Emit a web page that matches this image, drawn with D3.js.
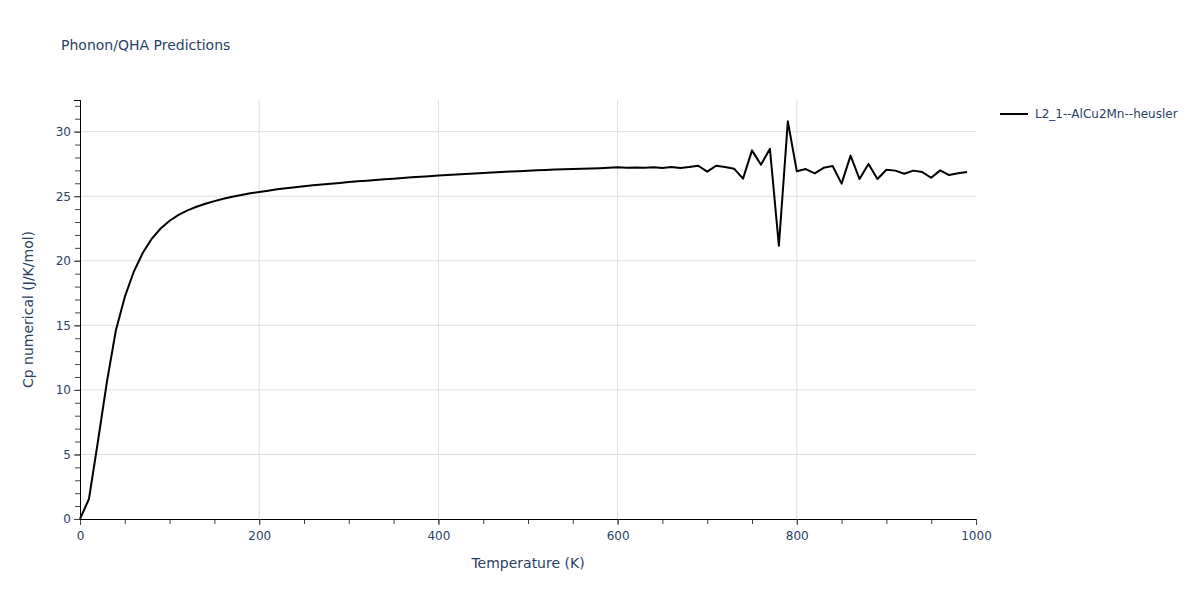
<!DOCTYPE html>
<html><head><meta charset="utf-8">
<script src="https://cdn.jsdelivr.net/npm/d3@7"></script>
<style>body{margin:0;background:#fff;} text{font-family:"DejaVu Sans",verdana,arial,sans-serif;}</style>
</head><body><svg id="c" width="1200" height="600"></svg>
<script>
const title = "Phonon/QHA Predictions";
const seriesName = "L2_1--AlCu2Mn--heusler";
const xLabel = "Temperature (K)";
const yLabel = "Cp numerical (J/K/mol)";
const temperature = d3.range(0, 1000, 10);
const cp = [
 0.00, 1.55, 6.00, 10.60, 14.60, 17.20, 19.15, 20.60, 21.70, 22.50,
 23.10, 23.55, 23.90, 24.18, 24.42, 24.62, 24.80, 24.96, 25.10, 25.22,
 25.33, 25.43, 25.53, 25.62, 25.70, 25.77, 25.84, 25.91, 25.97, 26.03,
 26.09, 26.15, 26.20, 26.26, 26.31, 26.36, 26.41, 26.46, 26.51, 26.55,
 26.60, 26.64, 26.68, 26.72, 26.76, 26.80, 26.84, 26.87, 26.91, 26.94,
 26.97, 27.00, 27.03, 27.06, 27.08, 27.10, 27.13, 27.15, 27.17, 27.20,
 27.24, 27.20, 27.23, 27.21, 27.25, 27.19, 27.26, 27.18, 27.26, 27.36,
 26.90, 27.36, 27.26, 27.13, 26.36, 28.55, 27.44, 28.68, 21.16, 30.80,
 26.93, 27.10, 26.77, 27.20, 27.34, 25.97, 28.14, 26.33, 27.50, 26.33,
 27.05, 26.98, 26.74, 26.98, 26.87, 26.43, 27.00, 26.64, 26.77, 26.87
];
const xDomain = [0, 1000];
const yDomain = [0, 32.45];
const xTickValues = [0, 200, 400, 600, 800, 1000];
const yTickValues = [0, 5, 10, 15, 20, 25, 30];

const svg = d3.select("#c");
const L = 80, R = 976, T = 100, B = 519;
const x = d3.scaleLinear().domain(xDomain).range([L, R]);
const y = d3.scaleLinear().domain(yDomain).range([B, T]);
const txt = "#2a3f5f";
const ff = '"DejaVu Sans",verdana,arial,sans-serif';

svg.append("g").selectAll("line").data(xTickValues.filter(v => v > 0 && v < 1000)).join("line")
  .attr("x1", d => x(d)).attr("x2", d => x(d)).attr("y1", T).attr("y2", B)
  .attr("stroke", "#dedede").attr("stroke-width", 1);
svg.append("g").selectAll("line").data(yTickValues.filter(v => v > 0)).join("line")
  .attr("x1", L).attr("x2", R).attr("y1", d => y(d)).attr("y2", d => y(d))
  .attr("stroke", "#dedede").attr("stroke-width", 1);

const xMinor = svg.append("g").attr("transform", `translate(0,${B})`)
  .call(d3.axisBottom(x).tickValues(d3.range(0, 1001, 50)).tickSize(5).tickFormat(""));
const xMajor = svg.append("g").attr("transform", `translate(0,${B})`)
  .call(d3.axisBottom(x).tickValues(xTickValues).tickSize(6).tickPadding(6).tickFormat(d3.format("d")));
[xMinor, xMajor].forEach(g => { g.select(".domain").attr("stroke", "#000"); g.selectAll(".tick line").attr("stroke", "#444"); });
xMajor.selectAll("text").attr("fill", txt).attr("font-size", 12).style("font-family", ff);

const yMinor = svg.append("g").attr("transform", `translate(${L},0)`)
  .call(d3.axisLeft(y).tickValues(d3.range(0, 33, 1)).tickSize(5).tickFormat(""));
const yMajor = svg.append("g").attr("transform", `translate(${L},0)`)
  .call(d3.axisLeft(y).tickValues(yTickValues).tickSize(6).tickPadding(3).tickFormat(d3.format("d")));
[yMinor, yMajor].forEach(g => { g.select(".domain").attr("stroke", "#000"); g.selectAll(".tick line").attr("stroke", "#444"); });
yMajor.selectAll("text").attr("fill", txt).attr("font-size", 12).style("font-family", ff);

const data = temperature.map((t, i) => [t, cp[i]]);
svg.append("path").datum(data)
  .attr("d", d3.line().x(d => x(d[0])).y(d => y(d[1])))
  .attr("fill", "none").attr("stroke", "#000").attr("stroke-width", 2).attr("stroke-linejoin", "round");

svg.append("text").attr("x", 61).attr("y", 50).attr("fill", txt).attr("font-size", 14).text(title);
svg.append("text").attr("x", (L + R) / 2).attr("y", 568).attr("text-anchor", "middle")
  .attr("fill", txt).attr("font-size", 14).text(xLabel);
svg.append("text").attr("transform", `translate(33,${(T + B) / 2}) rotate(-90)`).attr("text-anchor", "middle")
  .attr("fill", txt).attr("font-size", 14).text(yLabel);

svg.append("line").attr("x1", 1000).attr("x2", 1028).attr("y1", 114).attr("y2", 114)
  .attr("stroke", "#000").attr("stroke-width", 2);
svg.append("text").attr("x", 1035).attr("y", 118).attr("fill", txt).attr("font-size", 12).text(seriesName);
</script></body></html>
